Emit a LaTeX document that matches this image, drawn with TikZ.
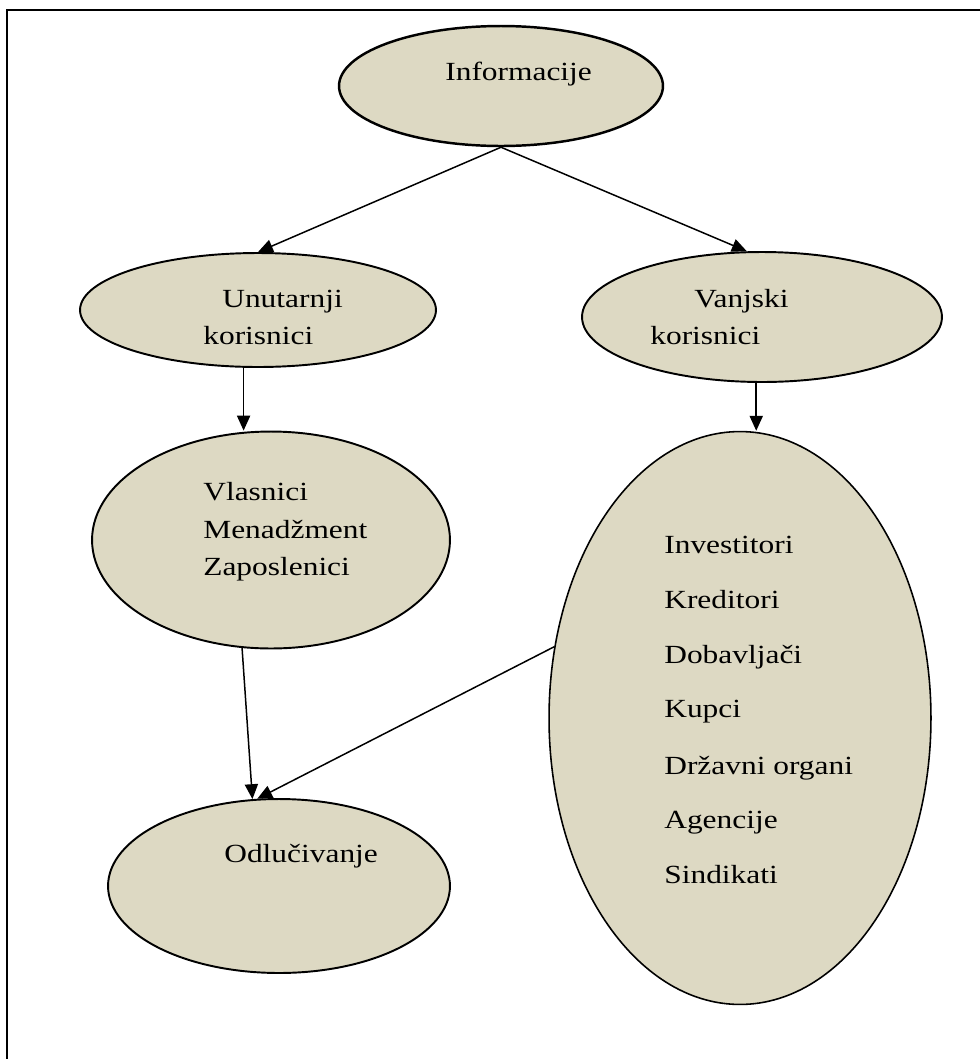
\documentclass[tikz,border=0pt]{standalone}
\usepackage{fontspec}
\setmainfont{Liberation Serif}[FakeStretch=1.2]
\usetikzlibrary{shapes.geometric,arrows.meta}
\definecolor{tanfill}{HTML}{DDD9C3}
\tikzset{
  blob/.style={ellipse, draw=black, line width=1.1pt, fill=tanfill, inner sep=0pt},
  lbl/.style={anchor=base west, inner sep=0pt, font=\fontsize{14.9pt}{17pt}\selectfont},
  arr/.style={line width=0.85pt, -{Triangle[length=8.5pt,width=7.5pt]}},
  frame/.style={line width=1.1pt}
}
\begin{document}
\begin{tikzpicture}[x=0.02cm, y=-0.02cm]
\useasboundingbox (0,0) rectangle (980,1059);
\draw[frame] (7,1059) -- (7,10) -- (980,10);

\node[blob, line width=1.4pt, minimum width=6.48cm, minimum height=2.4cm] (info) at (501,86) {};
\node[blob, minimum width=7.12cm, minimum height=2.28cm] (unut) at (258,310) {};
\node[blob, minimum width=7.2cm, minimum height=2.6cm] (vanj) at (762,317) {};
\node[blob, minimum width=7.16cm, minimum height=4.34cm] (vlas) at (271,540) {};
\node[blob, line width=0.9pt, minimum width=7.64cm, minimum height=11.46cm] (big) at (740,718) {};
\node[blob, minimum width=6.84cm, minimum height=3.48cm] (odl) at (279,886) {};

\node[lbl] (tinfo) at (445,80) {Informacije};
\node[lbl] (tun1) at (222,307) {Unutarnji};
\node[lbl] (tun2) at (203,344) {korisnici};
\node[lbl] (tva1) at (694,307) {Vanjski};
\node[lbl] (tva2) at (650,344) {korisnici};
\node[lbl] (tvl1) at (203,500) {Vlasnici};
\node[lbl] (tvl2) at (203,538) {Menadžment};
\node[lbl] (tvl3) at (203,575) {Zaposlenici};
\node[lbl] (tb1) at (664,553) {Investitori};
\node[lbl] (tb2) at (664,608) {Kreditori};
\node[lbl] (tb3) at (664,663) {Dobavljači};
\node[lbl] (tb4) at (664,717) {Kupci};
\node[lbl] (tb5) at (664,774) {Državni organi};
\node[lbl] (tb6) at (664,828) {Agencije};
\node[lbl] (tb7) at (664,883) {Sindikati};
\node[lbl] (todl) at (224,862) {Odlučivanje};

\draw[arr] (info.south) -- (unut.north);
\draw[arr] (info.south) -- (vanj.103);
\draw[arr] (unut.256) -- (unut.256 |- vlas.north);
\draw[arr] (vanj.265) -- (vanj.265 |- big.north);
\draw[arr] (vlas.255) -- (odl.107);
\draw[arr] (big.159) -- (odl.104);
\end{tikzpicture}
\end{document}
